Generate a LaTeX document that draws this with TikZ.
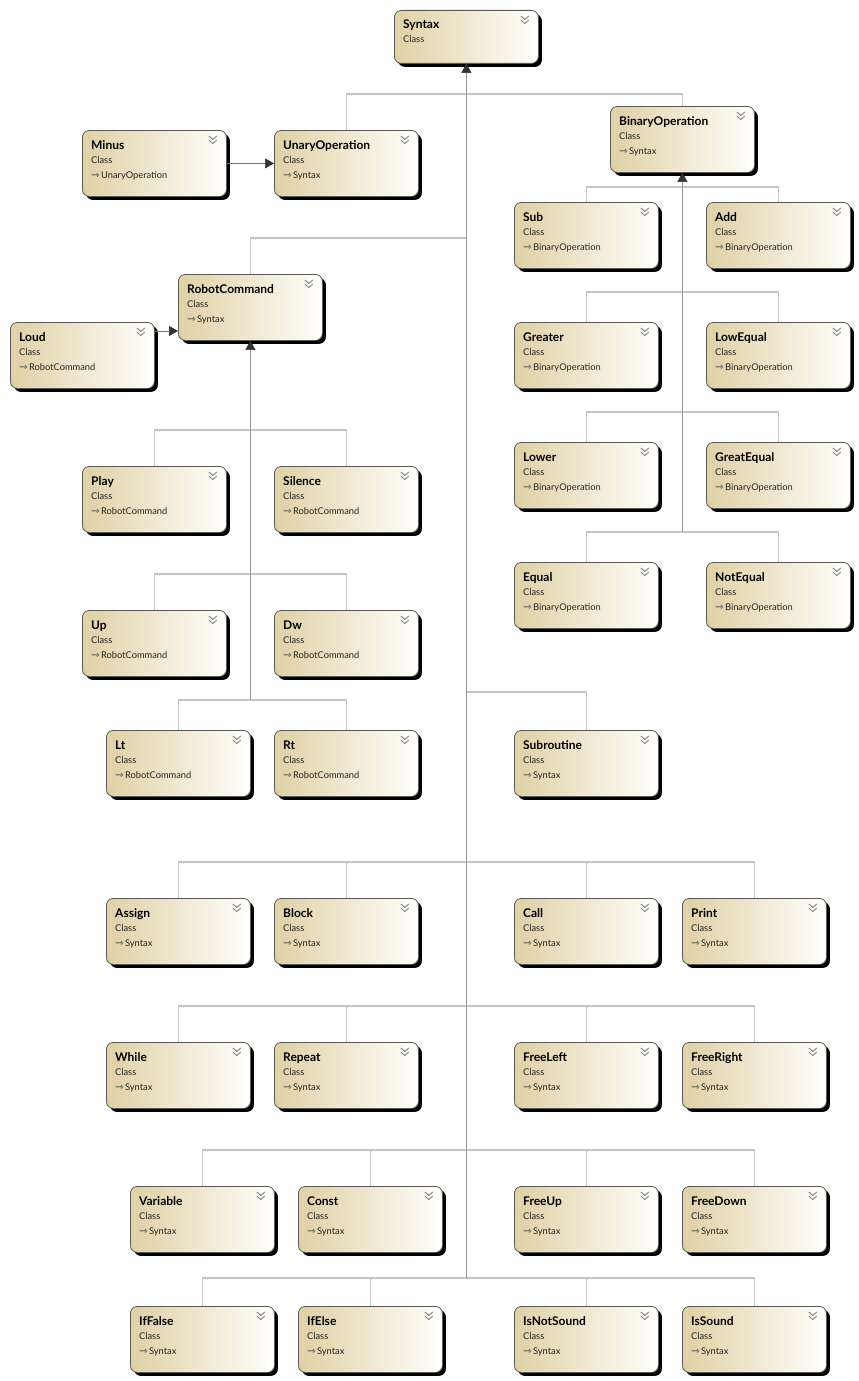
\documentclass[tikz,border=0pt]{standalone}
\usepackage{fontspec}
\setmainfont{Lato}
\newfontfamily\symfont{DejaVu Sans}
\usetikzlibrary{shadows,arrows.meta}

\definecolor{boxtan}{RGB}{224,208,164}
\definecolor{boxlight}{RGB}{255,255,252}
\definecolor{trunkgray}{RGB}{150,150,150}
\definecolor{branchgray}{RGB}{196,196,196}
\definecolor{tipgray}{RGB}{50,50,50}
\definecolor{chevgray}{RGB}{130,130,130}

\tikzset{
  clsbox/.style={draw=black!65, line width=0.8pt, rounded corners=7pt,
    left color=boxtan, middle color=boxtan!45!white, right color=boxlight,
    minimum width=144pt, minimum height=66pt, anchor=north west, inner sep=0pt,
    drop shadow={shadow xshift=3.5pt, shadow yshift=-3.5pt, opacity=1, fill=black}},
  clstitle/.style={anchor=base west, inner sep=0pt, font=\fontsize{12}{14}\selectfont\bfseries},
  clsmeta/.style={anchor=base west, inner sep=0pt, font=\fontsize{9.3}{11}\selectfont, text=black!85},
  chev/.style={draw=chevgray, line width=0.9pt},
  trunk/.style={draw=trunkgray, line width=1.8pt,
    -{Triangle[width=10pt,length=9pt,color=tipgray,line width=0.5pt]}},
  branch/.style={draw=branchgray, line width=1.2pt},
  assoc/.style={draw=black!55, line width=0.9pt,
    -{Triangle[width=10pt,length=9pt,color=tipgray,line width=0.5pt]}},
}

% header of a class box: title, stereotype and the collapse chevrons
\newcommand\clshead[1]{%
  \node[clstitle] at ([xshift=9pt,yshift=-19pt]#1.north west) {#1};
  \node[clsmeta] at ([xshift=9pt,yshift=-33pt]#1.north west) {Class};
  \draw[chev] ([xshift=-18pt,yshift=-6pt]#1.north east) -- ++(4pt,-3.5pt) -- ++(4pt,3.5pt);
  \draw[chev] ([xshift=-18pt,yshift=-10pt]#1.north east) -- ++(4pt,-3.5pt) -- ++(4pt,3.5pt);
}
% class box with a base class: name, left, top, base
\newcommand\umlclass[4]{%
  \node[clsbox] (#1) at (#2,#3) {};
  \clshead{#1}
  \node[clsmeta] at ([xshift=9pt,yshift=-48.5pt]#1.north west) {{\symfont\fontsize{10}{10}\selectfont ⇾}\,#4};
}

\begin{document}
\begin{tikzpicture}[x=1pt,y=-1pt]
\useasboundingbox (0,0) rectangle (859,1381);

% root
\node[clsbox, minimum height=53pt] (Syntax) at (394,10) {};
\clshead{Syntax}

% operations
\umlclass{Minus}{82}{130}{UnaryOperation}
\umlclass{UnaryOperation}{274}{130}{Syntax}
\umlclass{BinaryOperation}{610}{106}{Syntax}
\umlclass{Sub}{514}{202}{BinaryOperation}
\umlclass{Add}{706}{202}{BinaryOperation}
\umlclass{Greater}{514}{322}{BinaryOperation}
\umlclass{LowEqual}{706}{322}{BinaryOperation}
\umlclass{Lower}{514}{442}{BinaryOperation}
\umlclass{GreatEqual}{706}{442}{BinaryOperation}
\umlclass{Equal}{514}{562}{BinaryOperation}
\umlclass{NotEqual}{706}{562}{BinaryOperation}

% robot commands
\umlclass{RobotCommand}{178}{274}{Syntax}
\umlclass{Loud}{10}{322}{RobotCommand}
\umlclass{Play}{82}{466}{RobotCommand}
\umlclass{Silence}{274}{466}{RobotCommand}
\umlclass{Up}{82}{610}{RobotCommand}
\umlclass{Dw}{274}{610}{RobotCommand}
\umlclass{Lt}{106}{730}{RobotCommand}
\umlclass{Rt}{274}{730}{RobotCommand}

% statements and expressions
\umlclass{Subroutine}{514}{730}{Syntax}
\umlclass{Assign}{106}{898}{Syntax}
\umlclass{Block}{274}{898}{Syntax}
\umlclass{Call}{514}{898}{Syntax}
\umlclass{Print}{682}{898}{Syntax}
\umlclass{While}{106}{1042}{Syntax}
\umlclass{Repeat}{274}{1042}{Syntax}
\umlclass{FreeLeft}{514}{1042}{Syntax}
\umlclass{FreeRight}{682}{1042}{Syntax}
\umlclass{Variable}{130}{1186}{Syntax}
\umlclass{Const}{298}{1186}{Syntax}
\umlclass{FreeUp}{514}{1186}{Syntax}
\umlclass{FreeDown}{682}{1186}{Syntax}
\umlclass{IfFalse}{130}{1306}{Syntax}
\umlclass{IfElse}{298}{1306}{Syntax}
\umlclass{IsNotSound}{514}{1306}{Syntax}
\umlclass{IsSound}{682}{1306}{Syntax}

% bus levels
\coordinate (b1) at (0,94);
\coordinate (b2) at (0,238);
\coordinate (b3) at (0,692);
\coordinate (b4) at (0,862);
\coordinate (b5) at (0,1006);
\coordinate (b6) at (0,1150);
\coordinate (b7) at (0,1278);
\coordinate (o1) at (0,187);
\coordinate (o2) at (0,292);
\coordinate (o3) at (0,412);
\coordinate (o4) at (0,532);
\coordinate (r1) at (0,430);
\coordinate (r2) at (0,574);
\coordinate (r3) at (0,700);

% branches into the Syntax trunk
\foreach \c/\b in {UnaryOperation/b1, BinaryOperation/b1, RobotCommand/b2, Subroutine/b3,
  Assign/b4, Block/b4, Call/b4, Print/b4, While/b5, Repeat/b5, FreeLeft/b5, FreeRight/b5,
  Variable/b6, Const/b6, FreeUp/b6, FreeDown/b6, IfFalse/b7, IfElse/b7, IsNotSound/b7, IsSound/b7}
  \draw[branch] (\c.north) -- (\c.north |- \b) -- (\b -| Syntax.south);

% branches into the BinaryOperation trunk
\foreach \c/\b in {Sub/o1, Add/o1, Greater/o2, LowEqual/o2, Lower/o3, GreatEqual/o3, Equal/o4, NotEqual/o4}
  \draw[branch] (\c.north) -- (\c.north |- \b) -- (\b -| BinaryOperation.south);

% branches into the RobotCommand trunk
\foreach \c/\b in {Play/r1, Silence/r1, Up/r2, Dw/r2, Lt/r3, Rt/r3}
  \draw[branch] (\c.north) -- (\c.north |- \b) -- (\b -| RobotCommand.south);

% trunks with generalisation tips
\draw[trunk] (b7 -| Syntax.south) -- (Syntax.south);
\draw[trunk] (o4 -| BinaryOperation.south) -- (BinaryOperation.south);
\draw[trunk] (r3 -| RobotCommand.south) -- (RobotCommand.south);

% side generalisations
\draw[assoc] (Minus.east) -- (UnaryOperation.west);
\draw[assoc] ([yshift=-9pt]Loud.north east) -- ([yshift=-9pt]Loud.north east -| RobotCommand.west);
\end{tikzpicture}
\end{document}
